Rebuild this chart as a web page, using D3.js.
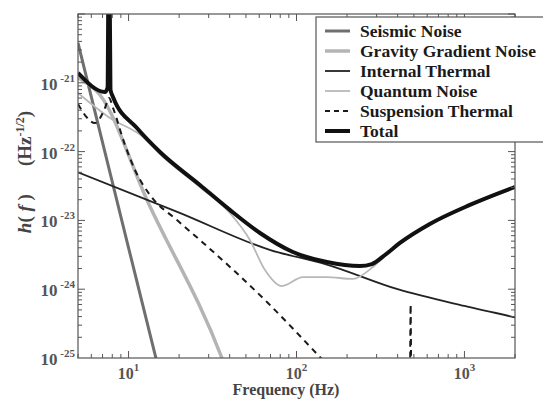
<!DOCTYPE html>
<html>
<head>
<meta charset="utf-8">
<script src="https://cdn.jsdelivr.net/npm/d3@7"></script>
<style>
  body { margin: 0; background: #fff; }
  text { font-family: "Liberation Serif", "Times New Roman", serif; font-weight: bold; }
</style>
</head>
<body>
<script>
// noise curves, frequency in Hz and strain in Hz^-1/2
var seismicF = [5, 10, 15];
var seismicH = [3.8e-21, 4.0e-24, 7.4e-26];

var gravityF = [5, 6.76, 12.87, 35.97, 40];
var gravityH = [1.18e-21, 6.65e-22, 1.98e-23, 1.0e-25, 5.0e-26];

var internalF = [5, 20, 70, 150, 400, 1000, 2000];
var internalH = [5.0e-23, 1.3e-23, 3.7e-24, 2.3e-24, 1.0e-24, 5.7e-25, 3.9e-25];

var quantumF = [5, 7.75, 12.19, 15.38, 26.6, 40.1, 52.8, 64.9, 81.9, 109.2, 151.7, 216.7, 285, 336, 412.7, 622, 1077, 2000];
var quantumH = [7.11e-22, 3.08e-22, 1.63e-22, 9.2e-23, 3.06e-23, 1.28e-23, 5.19e-24, 1.90e-24, 1.11e-24, 1.50e-24, 1.50e-24, 1.41e-24, 2.10e-24, 3.04e-24, 4.54e-24, 8.57e-24, 1.62e-23, 2.96e-23];

var suspensionF = [5, 5.5, 6.31, 7.24, 7.65, 8.08, 9.52, 10.92, 13.41, 19.42, 26.6, 67.6, 134.1, 200, 400, 472, 476, 478, 480, 484, 1000, 2000];
var suspensionH = [4.92e-22, 3.40e-22, 2.60e-22, 4.31e-22, 6.01e-22, 4.31e-22, 1.25e-22, 5.40e-23, 2.34e-23, 1.01e-23, 5.19e-24, 6.30e-25, 1.11e-25, 4e-26, 8e-27, 6e-27, 2e-25, 6e-25, 2e-25, 6e-27, 1.5e-27, 4e-28];

var totalF = [5, 7.24, 7.5, 7.62, 7.68, 7.8, 8.08, 11.22, 15.38, 26.6, 40.1, 60.6, 95.2, 151.7, 238.4, 281, 336, 412.7, 622, 1077, 1995];
var totalH = [1.39e-21, 7.35e-22, 8.5e-22, 1e-19, 1e-19, 8e-22, 6.22e-22, 2.20e-22, 9.86e-23, 3.27e-23, 1.42e-23, 6.56e-24, 3.47e-24, 2.48e-24, 2.17e-24, 2.32e-24, 3.14e-24, 4.70e-24, 8.87e-24, 1.68e-23, 3.06e-23];

var seriesNames = ["Seismic Noise", "Gravity Gradient Noise", "Internal Thermal", "Quantum Noise", "Suspension Thermal", "Total"];
var xTickExps = [1, 2, 3];
var yTickExps = [-21, -22, -23, -24, -25];

function zip(fs, hs) { return fs.map(function(f, i) { return [f, hs[i]]; }); }

var series = [
  { name: seriesNames[0], data: zip(seismicF, seismicH), color: "#6f6f6f", width: 3, dash: null },
  { name: seriesNames[1], data: zip(gravityF, gravityH), color: "#b4b4b4", width: 3.5, dash: null },
  { name: seriesNames[2], data: zip(internalF, internalH), color: "#222", width: 1.8, dash: null },
  { name: seriesNames[3], data: zip(quantumF, quantumH), color: "#b8b8b8", width: 1.8, dash: null },
  { name: seriesNames[4], data: zip(suspensionF, suspensionH), color: "#1a1a1a", width: 2, dash: "6,5" },
  { name: seriesNames[5], data: zip(totalF, totalH), color: "#111", width: 4, dash: null }
];

var width = 543, height = 399;
var pLeft = 78, pRight = 515, pTop = 14, pBottom = 358;

var svg = d3.select("body").append("svg")
    .attr("width", width)
    .attr("height", height);

var x = d3.scaleLog().domain([5, 2000]).range([pLeft, pRight]);
var y = d3.scaleLog().domain([1e-25, 1e-20]).range([pBottom, pTop]);

svg.append("clipPath").attr("id", "plot")
  .append("rect")
    .attr("x", pLeft).attr("y", pTop)
    .attr("width", pRight - pLeft).attr("height", pBottom - pTop);

var line = d3.line()
    .x(function(d) { return x(d[0]); })
    .y(function(d) { return y(d[1]); })
    .curve(d3.curveMonotoneX);

// curves
svg.append("g").attr("clip-path", "url(#plot)")
  .selectAll("path")
  .data(series)
  .enter()
  .append("path")
    .attr("d", function(d) { return line(d.data); })
    .attr("fill", "none")
    .attr("stroke", function(d) { return d.color; })
    .attr("stroke-width", function(d) { return d.width; })
    .attr("stroke-dasharray", function(d) { return d.dash; })
    .attr("stroke-linejoin", "round");

// frame
svg.append("rect")
    .attr("x", pLeft).attr("y", pTop)
    .attr("width", pRight - pLeft).attr("height", pBottom - pTop)
    .attr("fill", "none")
    .attr("stroke", "#555")
    .attr("stroke-width", 1.2);

// inward ticks on all four sides
var frame = svg.append("g").attr("stroke", "#555").attr("stroke-width", 1);
function isMajor(v) { return Math.abs(Math.log10(v) - Math.round(Math.log10(v))) < 1e-6; }

x.ticks().forEach(function(v) {
  var len = isMajor(v) ? 7 : 4;
  frame.append("line").attr("x1", x(v)).attr("x2", x(v)).attr("y1", pBottom).attr("y2", pBottom - len);
  frame.append("line").attr("x1", x(v)).attr("x2", x(v)).attr("y1", pTop).attr("y2", pTop + len);
});
y.ticks().forEach(function(v) {
  var len = isMajor(v) ? 7 : 4;
  frame.append("line").attr("y1", y(v)).attr("y2", y(v)).attr("x1", pLeft).attr("x2", pLeft + len);
  frame.append("line").attr("y1", y(v)).attr("y2", y(v)).attr("x1", pRight).attr("x2", pRight - len);
});

// tick labels
yTickExps.forEach(function(e) {
  var t = svg.append("text")
      .attr("x", 75).attr("y", y(Math.pow(10, e)) + 7)
      .attr("text-anchor", "end")
      .attr("fill", "#555")
      .style("font-size", "17px")
      .text("10");
  t.append("tspan").attr("dy", -8).style("font-size", "11px").text(" " + e);
});
xTickExps.forEach(function(e) {
  var t = svg.append("text")
      .attr("x", x(Math.pow(10, e))).attr("y", 379)
      .attr("text-anchor", "middle")
      .attr("fill", "#555")
      .style("font-size", "16px")
      .text("10");
  t.append("tspan").attr("dy", -8).style("font-size", "11px").text(e);
});

// axis labels
svg.append("text")
    .attr("x", 286).attr("y", 395)
    .attr("text-anchor", "middle")
    .attr("fill", "#444")
    .style("font-size", "16px")
    .text("Frequency (Hz)");

var yl = svg.append("text")
    .attr("transform", "translate(31,172) rotate(-90)")
    .attr("text-anchor", "middle")
    .attr("fill", "#444")
    .style("font-size", "19px");
yl.append("tspan").style("font-style", "italic").text("h");
yl.append("tspan").text("( ");
yl.append("tspan").style("font-style", "italic").text("f");
yl.append("tspan").text(" )");
yl.append("tspan").attr("dx", 28).text("(Hz");
yl.append("tspan").attr("dy", -7).style("font-size", "12px").text("-1/2");
yl.append("tspan").attr("dy", 7).text(")");

// legend
var legend = svg.append("g");
legend.append("rect")
    .attr("x", 316).attr("y", 17)
    .attr("width", 240).attr("height", 125)
    .attr("fill", "#fff")
    .attr("stroke", "#555")
    .attr("stroke-width", 1.2);

var rows = legend.selectAll("g.row")
  .data(series)
  .enter()
  .append("g")
    .attr("transform", function(d, i) { return "translate(0," + (31 + i * 20) + ")"; });

rows.append("line")
    .attr("x1", 325).attr("x2", 350)
    .attr("stroke", function(d) { return d.color; })
    .attr("stroke-width", function(d) { return d.width; })
    .attr("stroke-dasharray", function(d) { return d.dash ? "5,4" : null; });

rows.append("text")
    .attr("x", 360).attr("y", 6)
    .attr("fill", "#1a1a1a")
    .style("font-size", "17.5px")
    .text(function(d) { return d.name; });
</script>
</body>
</html>
